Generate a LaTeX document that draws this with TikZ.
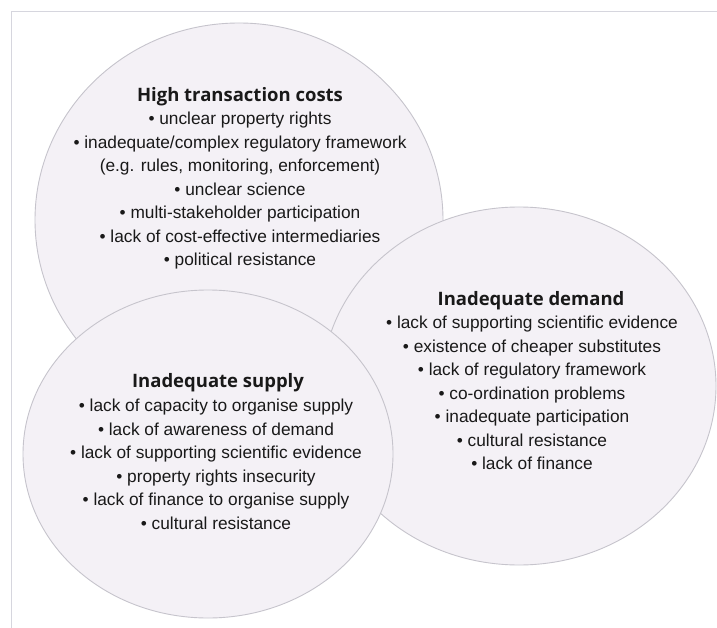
\documentclass[tikz,border=0pt]{standalone}
\usepackage{fontspec}
\setmainfont{Liberation Sans}
\newfontfamily\titlefont{Open Sans}
\definecolor{blobfill}{RGB}{244,241,246}
\definecolor{blobline}{RGB}{198,196,204}
\definecolor{framecol}{RGB}{214,214,222}
\definecolor{txt}{RGB}{25,25,25}
\tikzset{
  blob/.style={fill=blobfill, draw=blobline, line width=0.9pt},
  title/.style={font=\titlefont\bfseries\fontsize{18.5}{22}\selectfont, text=txt, inner sep=0pt},
  items/.style={font=\fontsize{17.3}{23.5}\selectfont, text=txt, align=center, inner sep=0pt, anchor=north}
}
\begin{document}
\begin{tikzpicture}[x=1pt,y=-1pt]
\useasboundingbox (0,0) rectangle (717,628);
\fill[white] (0,0) rectangle (717,628);
\draw[framecol, line width=1.6pt] (11.5,640) -- (11.5,11.5) -- (730,11.5);
% ellipses (back to front)
\draw[blob] (239,220) ellipse [x radius=204pt, y radius=197pt];
\draw[blob] (519,386) ellipse [x radius=197pt, y radius=179pt];
\draw[blob] (208,454) ellipse [x radius=185pt, y radius=164pt];
% top
\node[title] (t1) at (240,97) {High transaction costs};
\node[items] (l1) at (240,112) {• unclear property rights\\
• inadequate/complex regulatory framework\\
(e.g. rules, monitoring, enforcement)\\
• unclear science\\
• multi-stakeholder participation\\
• lack of cost-effective intermediaries\\
• political resistance};
% right
\node[title] (t2) at (531,301) {Inadequate demand};
\node[items] (l2) at (532,316) {• lack of supporting scientific evidence\\
• existence of cheaper substitutes\\
• lack of regulatory framework\\
• co-ordination problems\\
• inadequate participation\\
• cultural resistance\\
• lack of finance};
% lower left
\node[title] (t3) at (218,383) {Inadequate supply};
\node[items] (l3) at (216,399) {• lack of capacity to organise supply\\
• lack of awareness of demand\\
• lack of supporting scientific evidence\\
• property rights insecurity\\
• lack of finance to organise supply\\
• cultural resistance};
\end{tikzpicture}
\end{document}
